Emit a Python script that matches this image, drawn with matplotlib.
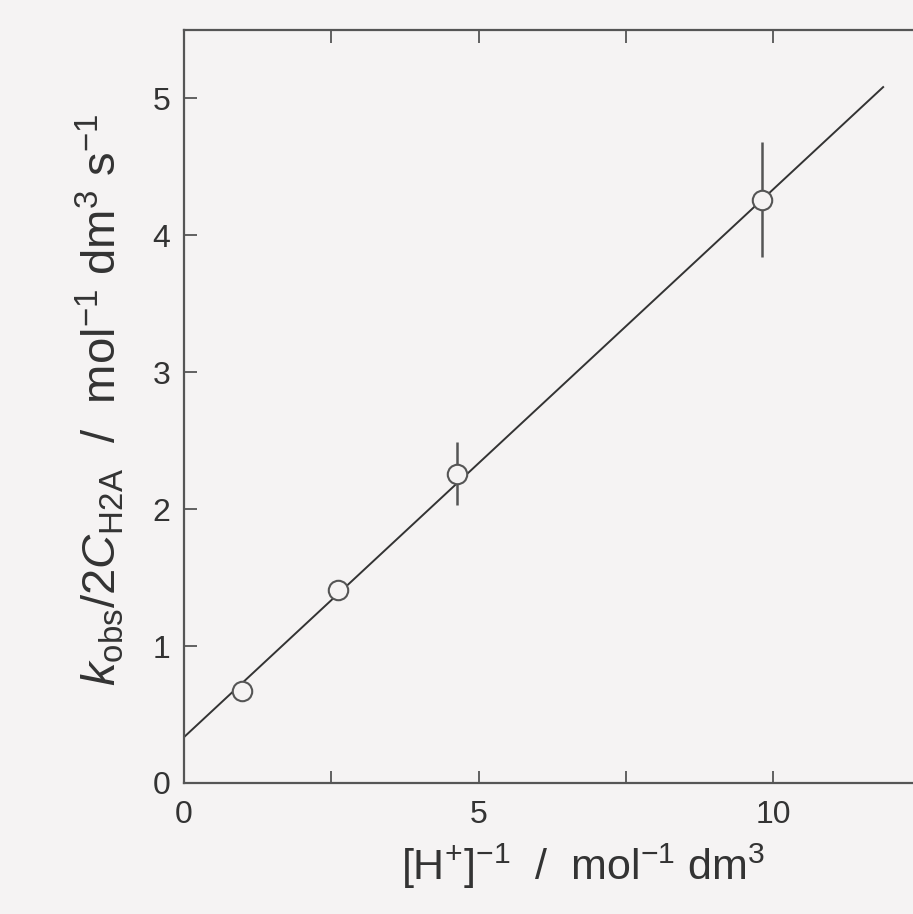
import matplotlib
matplotlib.use("Agg")
import matplotlib.pyplot as plt
import numpy as np

# Data
inv_h = [0.98, 2.62, 4.63, 9.82]          # [H+]^-1 / mol^-1 dm^3
k_ratio = [0.67, 1.41, 2.26, 4.26]        # kobs/2C_H2A
k_err = [0.0, 0.0, 0.23, 0.42]
fit_x = [0.0, 11.87]
fit_intercept = 0.335
fit_slope = 0.400
x_ticks = [0, 5, 10]
x_minor = [2.5, 7.5]
y_ticks = [0, 1, 2, 3, 4, 5]

plt.rcParams['font.family'] = ['Liberation Sans', 'DejaVu Sans']
plt.rcParams['mathtext.fontset'] = 'custom'
plt.rcParams['mathtext.rm'] = 'Liberation Sans'
plt.rcParams['mathtext.it'] = 'Liberation Sans:italic'

bg = '#f5f3f3'
ink = '#333333'
fig = plt.figure(figsize=(9.13, 9.14), dpi=100, facecolor=bg)
ax = fig.add_axes([184/913, (914-783)/914, 12.5*58.9/913, (783-30)/914])
ax.set_facecolor(bg)

fx = np.array(fit_x)
ax.plot(fx, fit_intercept + fit_slope*fx, color=ink, lw=1.4, zorder=2)
ax.errorbar(inv_h, k_ratio, yerr=k_err, fmt='o', ms=14, mfc=bg, mec='#555555',
            mew=1.5, ecolor='#555555', elinewidth=1.8, capsize=0, zorder=3)

ax.set_xlim(0, 12.5)
ax.set_ylim(0, 5.5)
ax.set_xticks(x_ticks)
ax.set_xticks(x_minor, minor=True)
ax.set_yticks(y_ticks)
ax.tick_params(axis='both', which='both', direction='in', length=9, width=1.3,
               colors='#555555', labelcolor='#333333', labelsize=23, top=True, right=False)
ax.tick_params(axis='x', pad=12)
ax.tick_params(axis='y', pad=10)
for s in ['left', 'bottom', 'top']:
    ax.spines[s].set_color('#555555')
    ax.spines[s].set_linewidth(1.6)
ax.spines['right'].set_visible(False)

ax.set_xlabel(r"[H$^{+}$]$^{-1}$  /  mol$^{-1}$ dm$^{3}$", fontsize=31, color='#333333',
              va='center', ha='center')
ax.xaxis.set_label_coords((583-184)/(12.5*58.9), (783-866)/753)
ax.set_ylabel(r"$k_{\mathrm{obs}}/2C_{\mathrm{H2A}}$  /  mol$^{-1}$ dm$^{3}$ s$^{-1}$",
              fontsize=34, color='#333333', va='center', ha='center')
ax.yaxis.set_label_coords((100-184)/(12.5*58.9), (783-400)/753)

fig.savefig("out.png", dpi=100, facecolor=bg)
